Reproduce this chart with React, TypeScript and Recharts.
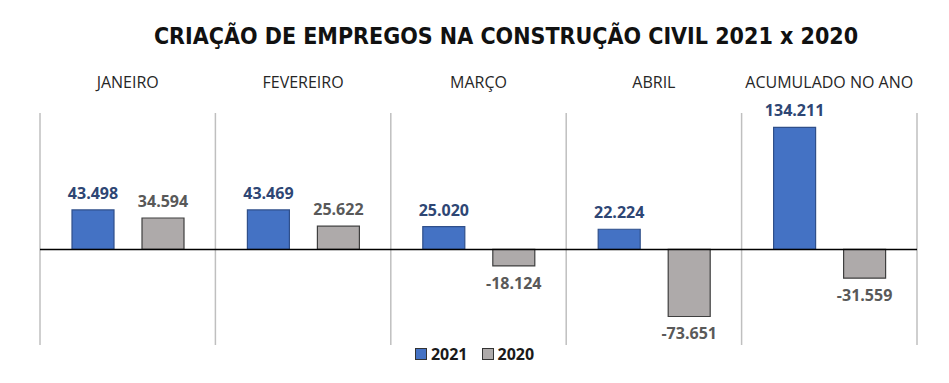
import { BarChart, Bar, XAxis, YAxis, CartesianGrid, ReferenceLine, Legend, LabelList } from 'recharts';

const categories = ['JANEIRO', 'FEVEREIRO', 'MARÇO', 'ABRIL', 'ACUMULADO NO ANO'];
const values2021 = [43498, 43469, 25020, 22224, 134211];
const values2020 = [34594, 25622, -18124, -73651, -31559];
const seriesNames = ['2021', '2020'];

const data = categories.map((c, i) => ({ name: c, a: values2021[i], b: values2020[i] }));

const BLUE = '#4472c4';
const GRAY = '#aeaaaa';

// 43498 -> "43.498"
const fmt = (v: number) => {
  const s = String(Math.abs(v)).replace(/\B(?=(\d{3})+(?!\d))/g, '.');
  return v < 0 ? '-' + s : s;
};

const makeLabel = (color: string) => (props: any) => {
  const { x, y, width, height, value } = props;
  const top = Math.min(y, y + height);
  const bottom = Math.max(y, y + height);
  const ty = value >= 0 ? top - 11 : bottom + 23;
  return (
    <text x={x + width / 2} y={ty} textAnchor="middle" fill={color}
      style={{ fontFamily: 'Open Sans', fontWeight: 700, fontSize: 16 }}>
      {fmt(value)}
    </text>
  );
};

const CatTick = (props: any) => {
  const { x, payload } = props;
  return (
    <text x={x} y={88} textAnchor="middle" fill="#262626"
      style={{ fontFamily: 'Open Sans', fontSize: 16 }}>
      {payload.value}
    </text>
  );
};

const LegendContent = () => (
  <div style={{ display: 'flex', justifyContent: 'center', gap: 14, fontFamily: 'Open Sans', fontWeight: 700, fontSize: 16, color: '#1a1a1a' }}>
    {seriesNames.map((n, i) => (
      <span key={n} style={{ display: 'flex', alignItems: 'center' }}>
        <span style={{ display: 'inline-block', width: 10, height: 10, background: i === 0 ? BLUE : GRAY, border: '1px solid #333', marginRight: 4 }} />
        {n}
      </span>
    ))}
  </div>
);

export default function App() {
  return (
    <div style={{ position: 'absolute', left: 0, top: 0, width: 949, height: 383, background: '#fff' }}>
      <div style={{ position: 'absolute', left: 0, top: 23, width: 1012, textAlign: 'center', fontFamily: 'DejaVu Sans Condensed', fontWeight: 700, fontSize: 23, color: '#111' }}>
        CRIAÇÃO DE EMPREGOS NA CONSTRUÇÃO CIVIL 2021 x 2020
      </div>
      <BarChart width={949} height={383} data={data}
        margin={{ top: 83, right: 32, bottom: 38, left: 40 }}
        barSize={42} barGap={28}>
        <CartesianGrid horizontal={false} stroke="#bfbfbf" strokeWidth={1.5}
          verticalCoordinatesGenerator={({ offset }: any) =>
            categories.map((_, i) => offset.left + (i * offset.width) / categories.length).concat(offset.left + offset.width)} />
        <XAxis dataKey="name" orientation="top" height={30} axisLine={false} tickLine={false} tick={<CatTick />} interval={0} />
        <YAxis hide domain={[-105000, 150000]} width={0} />
        <ReferenceLine y={0} stroke="#000" strokeWidth={1.5} />
        <Bar dataKey="a" name="2021" fill={BLUE} stroke="#2f4f8a" strokeWidth={1.2} isAnimationActive={false}>
          <LabelList dataKey="a" content={makeLabel('#2e4674')} />
        </Bar>
        <Bar dataKey="b" name="2020" fill={GRAY} stroke="#3f3f3f" strokeWidth={1.2} isAnimationActive={false}>
          <LabelList dataKey="b" content={makeLabel('#595959')} />
        </Bar>
        <Legend verticalAlign="middle" align="center" wrapperStyle={{ top: 343, left: 0, width: 949 }} content={<LegendContent />} />
      </BarChart>
    </div>
  );
}
